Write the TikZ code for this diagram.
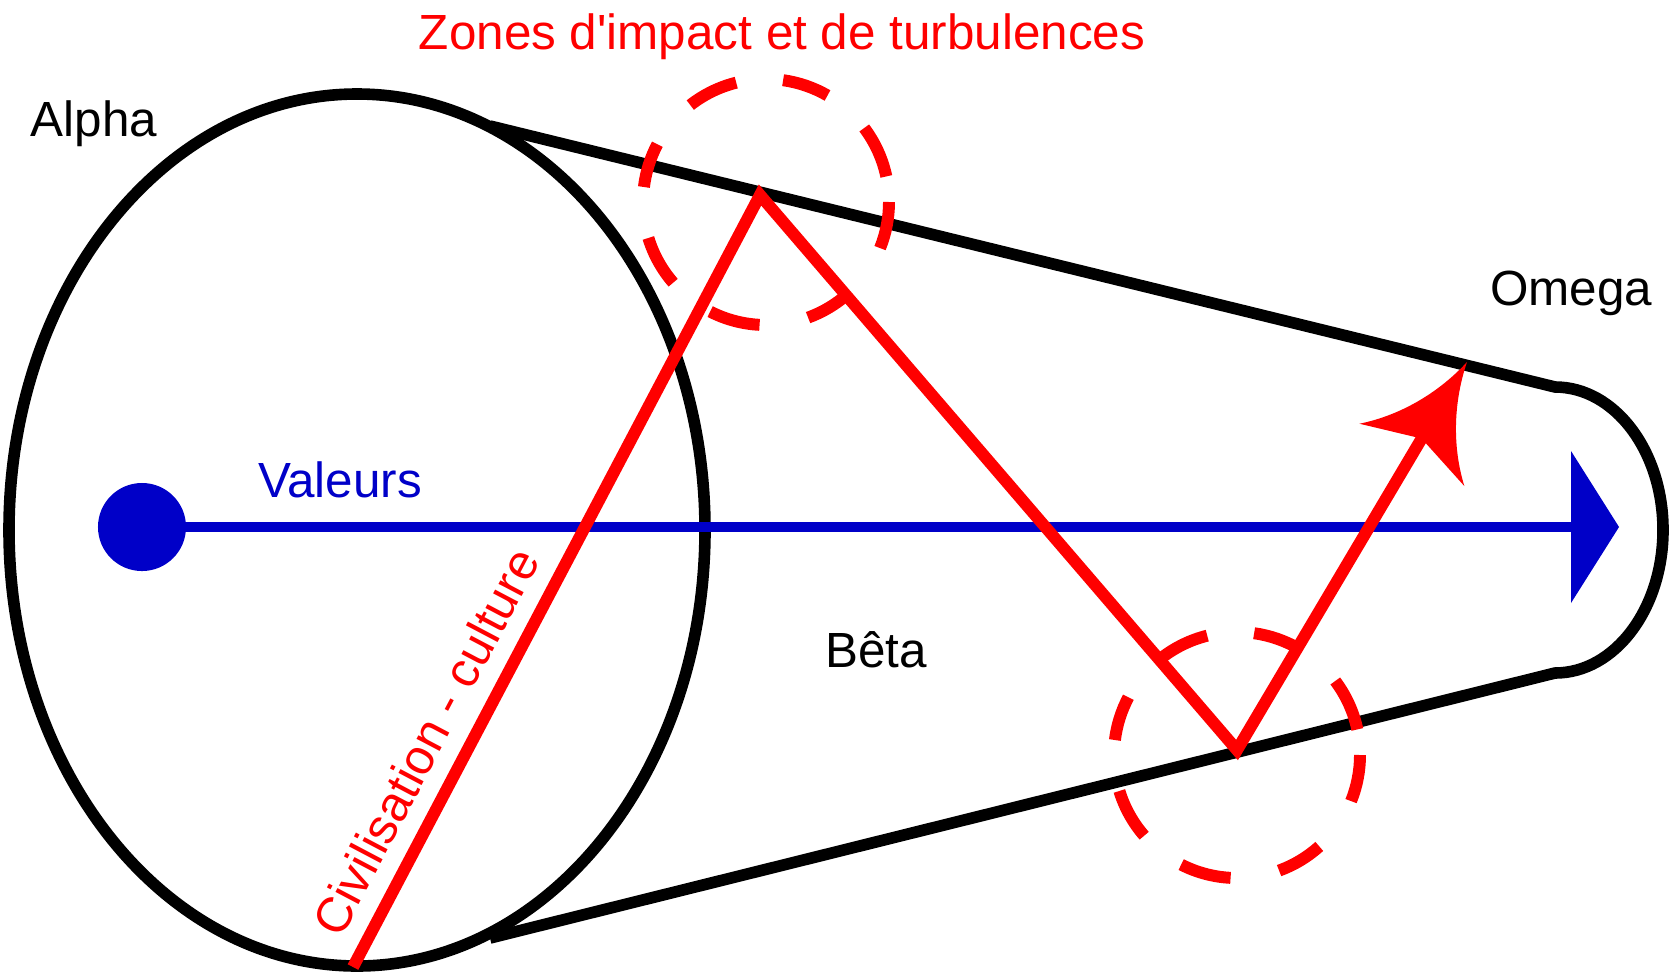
\documentclass[tikz,border=0pt]{standalone}
\usepackage{fontspec}
\setmainfont{Liberation Sans}
\usetikzlibrary{calc}
\definecolor{valblue}{RGB}{0,0,200}
\definecolor{civred}{RGB}{255,0,0}
\begin{document}
\begin{tikzpicture}[x=0.01cm,y=-0.01cm,
  contour/.style={draw=black,line width=3.3pt,line join=round},
  valline/.style={draw=valblue,line width=3.1pt},
  redpath/.style={draw=civred,line width=3.4pt,line join=miter},
  zone/.style={draw=civred,line width=3.4pt,line cap=butt},
  lbl/.style={font=\fontsize{14.05}{16}\selectfont,inner sep=0pt,anchor=base}]
\useasboundingbox (0,0) rectangle (1676,975);
% cone
\coordinate (A) at (357,530);
\coordinate (TL) at (490,126);
\coordinate (TR) at (1555,387);
\coordinate (BL) at (490,938);
\coordinate (BR) at (1555,673);
\draw[contour] (A) ellipse [x radius=348, y radius=436];
\draw[contour] (TL) -- (TR) arc[start angle=-90,end angle=90,x radius=108,y radius=143] -- (BL);
% values axis
\node[circle,fill=valblue,inner sep=0pt,minimum size=0.88cm] (dot) at (142,527) {};
\coordinate (vtip) at (1571,527);
\draw[valline] (dot.center) -- (vtip);
\fill[valblue] ($(vtip)+(0,-76)$) -- ($(vtip)+(48,0)$) -- ($(vtip)+(0,76)$) -- cycle;
% impact zones
\coordinate (Z1) at (766,202);
\coordinate (Z2) at (1237,755);
\foreach \z in {Z1,Z2}
  \foreach \s/\e in {-152/-173,-104/-128,-60/-82,-12/-37,22/0,70/48,117/93,163/139}
    \draw[zone] ($(\z)+(\s:123)$) arc[start angle=\s,end angle=\e,radius=123];
% civilisation path
\coordinate (P0) at (353,967);
\coordinate (P1) at (760,195);
\coordinate (P2) at (1237,750);
\coordinate (T) at (1467,362);
\coordinate (N) at ($(T)!0.85cm!(P2)$);
\draw[redpath] (P0) -- (P1) -- (P2) -- (N);
\begin{scope}[shift={(T)},rotate=59.3]
\fill[civred] (0,0) .. controls (-38,8) and (-78,28) .. (-108,61) -- (-89,0) -- (-108,-61) .. controls (-78,-28) and (-38,-8) .. (0,0) -- cycle;
\end{scope}
% labels
\node[lbl,text=civred] (title) at (782,49) {Zones d\textquotesingle impact et de turbulences};
\node[lbl] (alpha) at (94,136) {Alpha};
\node[lbl] (omega) at (1571,305) {Omega};
\node[lbl,text=valblue] (valeurs) at (340,497) {Valeurs};
\node[lbl] (beta) at (876,667) {Bêta};
\node[lbl,text=civred,rotate=62.2] (civ) at (441,750) {Civilisation - culture};
\end{tikzpicture}
\end{document}
